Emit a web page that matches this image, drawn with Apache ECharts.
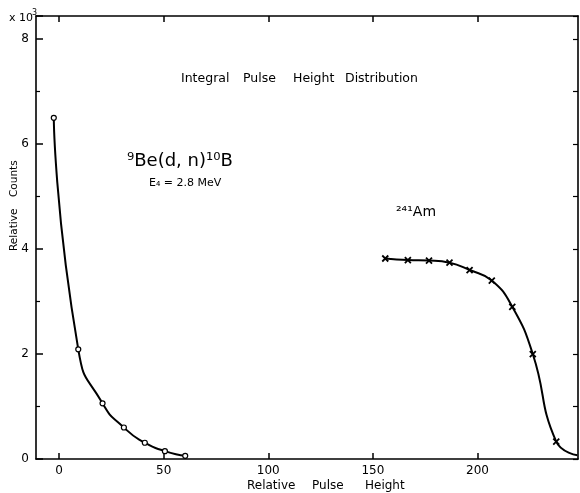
<!DOCTYPE html>
<html>
<head>
<meta charset="utf-8">
<script src="https://cdn.jsdelivr.net/npm/echarts@6/dist/echarts.min.js"></script>
<style>
html,body{margin:0;padding:0;background:#fff;}
#c{width:580px;height:493px;}
</style>
</head>
<body>
<div id="c"></div>
<script>
// Data
var beX = [-2.5, 9.2, 20.8, 31.0, 41.0, 50.6, 60.3];
var beY = [6.50, 2.09, 1.06, 0.60, 0.31, 0.15, 0.06];
var amX = [155.9, 166.7, 176.8, 186.6, 196.2, 206.8, 216.6, 226.4, 237.6];
var amY = [3.82, 3.79, 3.78, 3.74, 3.60, 3.40, 2.90, 2.00, 0.33];
// unmarked end of the 241Am curve at the frame edge
var amTailX = [247.7];
var amTailY = [0.07];
var xTicks = [0, 50, 100, 150, 200];

var FONT = 'DejaVu Sans';
var chart = echarts.init(document.getElementById('c'), null, {renderer: 'canvas'});

var beData = beX.map(function (x, i) { return [x, beY[i]]; });
var amData = amX.map(function (x, i) { return [x, amY[i]]; });
amTailX.forEach(function (x, i) {
  amData.push({value: [x, amTailY[i]], symbol: 'none'});
});

var axisLineStyle = {color: '#000', width: 1.6};
function txt(text, x, y, size, extra) {
  var o = {type: 'text', x: x, y: y, style: {text: text, fill: '#000', font: size + 'px "' + FONT + '"',
    textVerticalAlign: 'middle', verticalAlign: 'middle'}};
  if (extra) { for (var k in extra) o[k] = extra[k]; }
  return o;
}

chart.setOption({
  animation: false,
  backgroundColor: '#fff',
  grid: {left: 36, right: 2, top: 16, bottom: 34},
  xAxis: [{
    type: 'value', position: 'bottom', min: -11, max: 248,
    axisLine: {show: true, onZero: false, lineStyle: axisLineStyle},
    axisTick: {show: true, inside: true, length: 6, customValues: xTicks, lineStyle: {color: '#000', width: 1.5}},
    axisLabel: {show: true, customValues: xTicks, margin: 6, color: '#000', fontSize: 12, fontFamily: FONT},
    splitLine: {show: false}
  }, {
    type: 'value', position: 'top', min: -11, max: 248,
    axisLine: {show: true, onZero: false, lineStyle: axisLineStyle},
    axisTick: {show: true, inside: true, length: 6, customValues: xTicks, lineStyle: {color: '#000', width: 1.5}},
    axisLabel: {show: false},
    splitLine: {show: false}
  }],
  yAxis: [{
    type: 'value', position: 'left', min: 0, max: 8.44, interval: 2,
    axisLine: {show: true, onZero: false, lineStyle: axisLineStyle},
    axisTick: {show: true, inside: true, length: 7, lineStyle: {color: '#000', width: 1.5}},
    minorTick: {show: true, splitNumber: 2, length: 4, lineStyle: {color: '#000', width: 1.2}},
    axisLabel: {show: true, margin: 7, color: '#000', fontSize: 12, fontFamily: FONT,
      showMaxLabel: false},
    splitLine: {show: false}
  }, {
    type: 'value', position: 'right', min: 0, max: 8.44, interval: 1,
    axisLine: {show: true, onZero: false, lineStyle: axisLineStyle},
    axisTick: {show: true, inside: true, length: 5, lineStyle: {color: '#000', width: 1.2}},
    axisLabel: {show: false},
    splitLine: {show: false}
  }],
  series: [{
    type: 'line', name: 'Be', data: beData, xAxisIndex: 0, yAxisIndex: 0,
    smooth: 0.6,
    symbol: 'circle', symbolSize: 5, showAllSymbol: true,
    lineStyle: {color: '#000', width: 2},
    itemStyle: {color: '#fff', borderColor: '#000', borderWidth: 1.2}
  }, {
    type: 'line', name: 'Am', data: amData, xAxisIndex: 0, yAxisIndex: 0,
    smooth: 0.5,
    symbol: 'path://M0,0L10,10M10,0L0,10', symbolSize: [6, 6], showAllSymbol: true,
    lineStyle: {color: '#000', width: 2},
    itemStyle: {color: 'none', borderColor: '#000', borderWidth: 1.8}
  }],
  graphic: [
    txt('x 10', 9, 18, 11),
    txt('3', 32, 13, 8),
    txt('Integral', 181, 79, 12.5),
    txt('Pulse', 243, 79, 12.5),
    txt('Height', 293, 79, 12.5),
    txt('Distribution', 345, 79, 12.5),
    txt('Relative', 247, 486, 12),
    txt('Pulse', 312, 486, 12),
    txt('Height', 365, 486, 12),
    txt('Relative', 14, 251, 10.5, {rotation: Math.PI / 2}),
    txt('Counts', 14, 197, 10.5, {rotation: Math.PI / 2}),
    txt('⁹Be(d, n)¹⁰B', 127, 161, 18),
    txt('E₄ = 2.8 MeV', 149, 183, 11),
    txt('²⁴¹Am', 396, 212, 14)
  ]
});
</script>
</body>
</html>
